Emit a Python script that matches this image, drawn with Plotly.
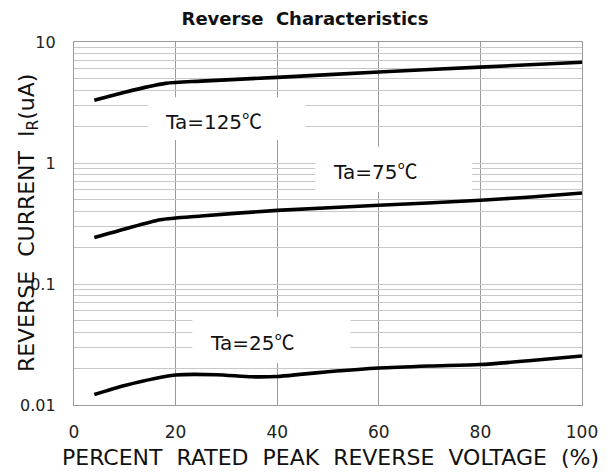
import plotly.graph_objects as go
import math

# Data
x_125 = [4, 10, 18, 25, 40, 60, 80, 100]
y_125 = [3.3, 3.85, 4.55, 4.75, 5.1, 5.65, 6.2, 6.8]

x_75 = [4, 10, 17, 25, 40, 60, 80, 90, 100]
y_75 = [0.242, 0.285, 0.34, 0.365, 0.406, 0.447, 0.492, 0.524, 0.565]

x_25 = [4, 10, 20, 28, 35, 40, 45, 50, 60, 70, 80, 90, 100]
y_25 = [0.0122, 0.0145, 0.0177, 0.0178, 0.0171, 0.0172, 0.0180, 0.0188, 0.0202, 0.0210, 0.0216, 0.0233, 0.0254]

x_ticks = [0, 20, 40, 60, 80, 100]
y_major = [0.01, 0.1, 1, 10]
y_major_text = ["0.01", "0.1", "1", "10"]

labels = ["Ta=125", "Ta=75", "Ta=25"]
label_pos = [(27.4, 2.26), (59.3, 0.86), (35.1, 0.0338)]
label_box = [(14.6, 45.5, 1.55, 3.5), (47.5, 78.4, 0.575, 1.36), (23.3, 54.4, 0.0222, 0.0533)]

# gridline positions for log axis (1..9 per decade)
y_grid = []
for d in [0.01, 0.1, 1]:
    for m in range(1, 10):
        y_grid.append(round(d * m, 6))
y_grid.append(10)
y_text = [y_major_text[y_major.index(v)] if v in y_major else "" for v in y_grid]

FONT = "DejaVu Sans, sans-serif"
CJK = "Noto Sans CJK SC"
SP = "&nbsp;&nbsp;"

fig = go.Figure()
for xs, ys in [(x_125, y_125), (x_75, y_75), (x_25, y_25)]:
    fig.add_trace(go.Scatter(x=xs, y=ys, mode="lines",
                             line=dict(color="black", width=3.6, shape="spline", smoothing=0.7),
                             showlegend=False, hoverinfo="skip"))

for (x0, x1, y0, y1) in label_box:
    fig.add_shape(type="rect", xref="x", yref="y", x0=x0, x1=x1, y0=y0, y1=y1,
                  fillcolor="white", line=dict(width=0), layer="between")

for txt, (lx, ly) in zip(labels, label_pos):
    fig.add_annotation(x=lx, y=math.log10(ly),
                       text=txt + "<span style='font-family:" + CJK + "'>℃</span>",
                       showarrow=False,
                       font=dict(family=FONT, size=20, color="#111111"))

# axis titles (placed as annotations to match the reference's overlap with tick labels)
fig.add_annotation(xref="paper", yref="paper", x=0.504, y=-0.146,
                   text=SP.join(["PERCENT", "RATED", "PEAK", "REVERSE", "VOLTAGE", "(%)"]),
                   showarrow=False, xanchor="center", yanchor="middle",
                   font=dict(family=FONT, size=22, color="#111111"))
fig.add_annotation(xref="paper", yref="paper", x=-0.0906, y=0.501,
                   text=SP.join(["REVERSE", "CURRENT", "I<sub>R</sub>(uA)"]),
                   showarrow=False, xanchor="center", yanchor="middle", textangle=-90,
                   font=dict(family=FONT, size=22, color="#111111"))

fig.update_layout(
    width=602, height=466,
    margin=dict(l=66, r=28, t=34, b=69, autoexpand=False),
    paper_bgcolor="white", plot_bgcolor="white",
    title=dict(text="<b>Reverse" + SP + "Characteristics</b>", x=0.4934, xanchor="center",
               y=0.976, yanchor="middle", automargin=False,
               font=dict(family=FONT, size=18, color="#111111")),
    xaxis=dict(range=[0, 100], tickvals=x_ticks, showgrid=True, gridcolor="#9a9a9a", gridwidth=1.3,
               showline=True, linecolor="#9a9a9a", linewidth=1.3, mirror=True, zeroline=False,
               ticks="", ticklabelstandoff=11, automargin=False,
               tickfont=dict(family=FONT, size=17, color="#222222")),
    yaxis=dict(type="log", range=[-2, 1], tickvals=y_grid, ticktext=y_text,
               showgrid=True, gridcolor="#c8c8c8", gridwidth=1.3,
               showline=True, linecolor="#9a9a9a", linewidth=1.3, mirror=True, zeroline=False,
               ticks="", ticklabelstandoff=14, automargin=False,
               tickfont=dict(family=FONT, size=16, color="#222222")),
)

fig.write_html("out.html")
